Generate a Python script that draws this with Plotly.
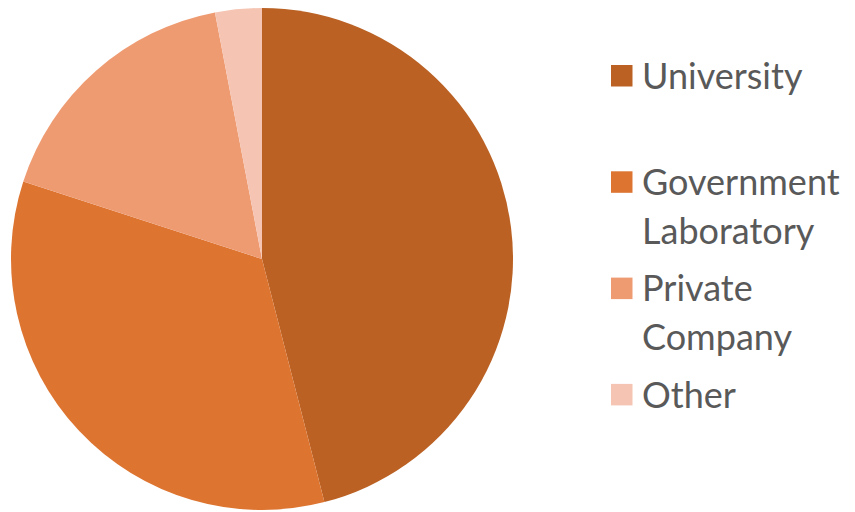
import plotly.graph_objects as go

# Share of respondents by employer type
labels = ["University", "Government Laboratory", "Private Company", "Other"]
values = [46, 34, 17, 3]
colors = ["#BA6123", "#DD7430", "#EF9B72", "#F5C4B2"]
# Legend text, wrapped over lines
legend_lines = [["University"], ["Government", "Laboratory"], ["Private", "Company"], ["Other"]]

W, H = 855, 512
FONT = "Lato"
TEXT_COLOR = "#595959"
FONT_SIZE = 36

fig = go.Figure(
    go.Pie(
        labels=labels,
        values=values,
        marker=dict(colors=colors, line=dict(width=0)),
        sort=False,
        direction="clockwise",
        rotation=0,
        textinfo="none",
        hoverinfo="label+percent",
        domain=dict(x=[11 / W, 513 / W], y=[1 - 510 / H, 1 - 8 / H]),
        showlegend=False,
    )
)

# Hand-laid legend: swatch + wrapped label for each slice
sw_left, sw_size = 611, 21.5
row_top0, row_step, line_step = 65, 106.3, 49
text_left = 640

shapes, annotations = [], []
for i, (lines, col) in enumerate(zip(legend_lines, colors)):
    top = row_top0 + i * row_step
    shapes.append(dict(
        type="rect", xref="paper", yref="paper",
        x0=sw_left / W, x1=(sw_left + sw_size) / W,
        y0=1 - (top + sw_size) / H, y1=1 - top / H,
        fillcolor=col, line=dict(width=0),
    ))
    for j, txt in enumerate(lines):
        cy = top + sw_size / 2 + j * line_step - 1
        annotations.append(dict(
            text=txt, xref="paper", yref="paper",
            x=text_left / W, y=1 - cy / H,
            xanchor="left", yanchor="middle", showarrow=False,
            font=dict(family=FONT, size=FONT_SIZE, color=TEXT_COLOR),
        ))

fig.update_layout(
    width=W, height=H,
    margin=dict(l=0, r=0, t=0, b=0),
    paper_bgcolor="white",
    plot_bgcolor="white",
    shapes=shapes,
    annotations=annotations,
)

fig.write_html("out.html")
